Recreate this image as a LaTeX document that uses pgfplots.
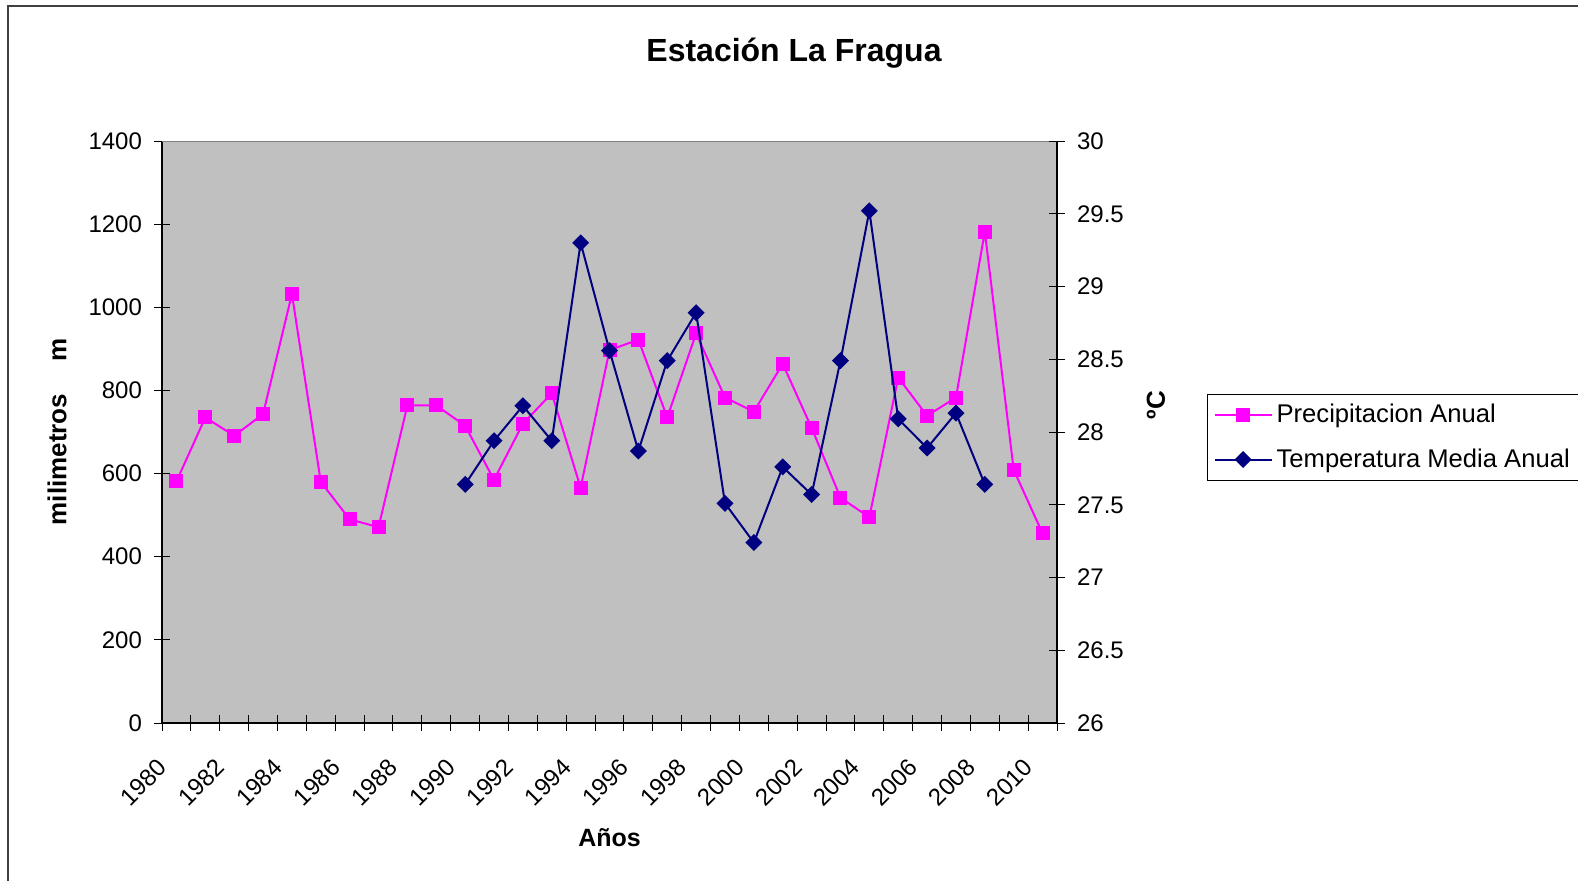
\documentclass[border=0pt]{standalone}
\usepackage{pgfplots}
\pgfplotsset{compat=1.18}
\usepackage{fontspec}
\setmainfont{Liberation Sans}

\definecolor{precip}{HTML}{FF00FF}
\definecolor{temp}{HTML}{000080}
\definecolor{plotbg}{HTML}{C0C0C0}
\definecolor{frame}{HTML}{404040}

\pgfplotsset{
  common/.style={
    width=447.5pt, height=291pt, scale only axis,
    at={(81pt,78.5pt)}, anchor=south west,
    xmin=1979.5, xmax=2010.5,
    axis line style={-, black, line width=0.9pt},
    tick style={black, line width=0.5pt},
    major tick length=8pt, minor tick length=8pt, tick align=center,
    /pgf/number format/assume math mode=true,
    /pgf/number format/1000 sep={},
    ticklabel style={font=\fontsize{12}{14}\selectfont},
  },
}

\begin{document}
\begin{tikzpicture}
\useasboundingbox (0pt,0pt) rectangle (789pt,440pt);
\draw[frame, line width=1pt] (4pt,-10pt) -- (4pt,437pt) -- (800pt,437pt);

\node[font=\bfseries\fontsize{16}{19}\selectfont, anchor=base] at (397pt,409.2pt) {Estación La Fragua};

% precipitation, left axis
\begin{axis}[
  common,
  axis background/.style={fill=plotbg},
  axis x line*=bottom, axis y line*=left,
  ymin=0, ymax=1400, ytick={0,200,...,1400},
  xtick={1980,1982,...,2010},
  major x tick style={draw=none},
  minor xtick={1979.5,1980.5,...,2010.5},
  xticklabel style={xshift=-4.5pt, yshift=-13.8pt, rotate=45, anchor=east},
  yticklabel style={xshift=-2.5pt},
  xlabel={Años},
  xlabel style={at={(axis description cs:0.5,-0.1976)}, anchor=center, font=\bfseries\fontsize{12.5}{15}\selectfont},
  ylabel={milimetros\hspace{16pt}m},
  ylabel style={at={(axis description cs:-0.1173,0.5)}, anchor=center, font=\bfseries\fontsize{13}{15}\selectfont},
]
\draw[gray, line width=0.9pt] (rel axis cs:0,1) -- (rel axis cs:1,1);
\addplot[precip, line width=1pt, mark=square*, mark size=3pt, mark options={solid}] coordinates {
  (1980,581) (1981,735) (1982,691) (1983,743) (1984,1032) (1985,580)
  (1986,490) (1987,471) (1988,764) (1989,764) (1990,715) (1991,585)
  (1992,720) (1993,793) (1994,566) (1995,897) (1996,922) (1997,735)
  (1998,937) (1999,783) (2000,749) (2001,864) (2002,710) (2003,542)
  (2004,495) (2005,831) (2006,739) (2007,783) (2008,1182) (2009,609)
  (2010,456)
};
\end{axis}

% temperature, right axis
\begin{axis}[
  common,
  axis x line=none, axis y line*=right,
  ymin=26, ymax=30, ytick={26,26.5,...,30},
  yticklabel style={xshift=2.5pt},
  ylabel={ºC},
  ylabel style={at={(axis description cs:1.1106,0.546)}, anchor=center, font=\bfseries\fontsize{13}{15}\selectfont},
  legend image code/.code={\draw[mark repeat=2, mark phase=2, #1] plot coordinates {(0pt,0pt) (14.25pt,0pt) (28.5pt,0pt)};},
  legend style={at={(1.1676,0.566)}, anchor=north west, draw=black, fill=white,
    line width=0.6pt,
    font=\fontsize{12.8}{15}\selectfont, inner xsep=3pt, inner ysep=3pt,
    row sep=7.5pt, cells={anchor=west}},
]
\addlegendimage{precip, line width=1pt, mark=square*, mark size=3pt}
\addlegendentry{Precipitacion Anual}
\addplot[temp, line width=1pt, mark=square*, mark size=2.5pt, mark options={rotate=45, solid}] coordinates {
  (1990,27.64) (1991,27.94) (1992,28.18) (1993,27.94) (1994,29.30)
  (1995,28.56) (1996,27.87) (1997,28.49) (1998,28.82) (1999,27.51)
  (2000,27.24) (2001,27.76) (2002,27.57) (2003,28.49) (2004,29.52)
  (2005,28.09) (2006,27.89) (2007,28.13) (2008,27.64)
};
\addlegendentry{Temperatura Media Anual}
\end{axis}
\end{tikzpicture}
\end{document}
